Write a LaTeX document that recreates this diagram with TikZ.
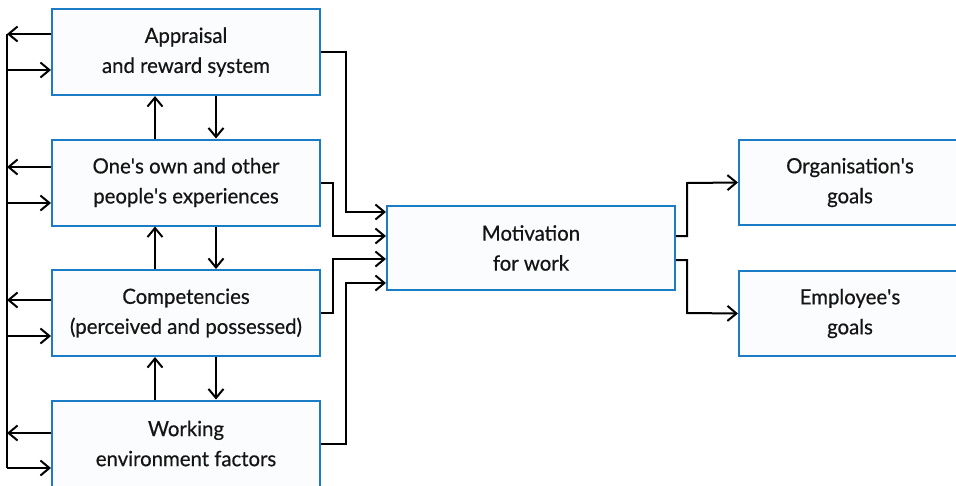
\documentclass[tikz,border=0pt]{standalone}
\usepackage{fontspec}
\setmainfont{Lato}[FakeStretch=0.97,FakeBold=0.5]
\usetikzlibrary{arrows.meta}
\definecolor{boxblue}{HTML}{1B7BC4}
\definecolor{boxfill}{HTML}{FBFCFD}
\definecolor{textcol}{HTML}{151515}
\newcommand{\apos}{\textquotesingle}
\tikzset{
  box/.style={draw=boxblue, line width=2pt, fill=boxfill, minimum width=268pt,
    minimum height=86pt, align=center, inner sep=0pt, text=textcol,
    font=\fontsize{21}{30}\selectfont},
  link/.style={line width=2pt, -{Straight Barb[length=9pt,width=15pt,line width=2pt]}},
  wire/.style={line width=2pt},
}
\begin{document}
\begin{tikzpicture}[x=1pt,y=-1pt]
\useasboundingbox (0,0) rectangle (956,485);
\clip (0,0) rectangle (956,485);

% factor boxes on the left
\node[box] (appr) at (186,52) {Appraisal\\and reward system};
\node[box] (exp)  at (186,182.5) {One\apos s own and other\\people\apos s experiences};
\node[box] (comp) at (186,313) {Competencies\\(perceived and possessed)};
\node[box] (env)  at (186,443.5) {Working\\environment factors};

% central box and outcomes
\node[box, minimum width=288pt, minimum height=84pt] (mot) at (531,248) {Motivation\\for work};
\node[box, minimum width=222pt, minimum height=85pt] (org) at (850,182.5) {Organisation\apos s\\goals};
\node[box, minimum width=222pt, minimum height=85pt] (emp) at (850,313.5) {Employee\apos s\\goals};

% feedback bus on the far left
\coordinate (b1) at (7,34);
\coordinate (b2) at (7,70);
\coordinate (b3) at (7,167);
\coordinate (b4) at (7,203);
\coordinate (b5) at (7,300);
\coordinate (b6) at (7,336);
\coordinate (b7) at (7,433);
\coordinate (b8) at (7,468);
\draw[wire] (b1) -- (b8);
\draw[link] (appr.west |- b1) -- (b1);
\draw[link] (b2) -- (appr.west |- b2);
\draw[link] (exp.west |- b3) -- (b3);
\draw[link] (b4) -- (exp.west |- b4);
\draw[link] (comp.west |- b5) -- (b5);
\draw[link] (b6) -- (comp.west |- b6);
\draw[link] (env.west |- b7) -- (b7);
\draw[link] (b8) -- (env.west |- b8);

% vertical links between neighbouring boxes
\foreach \lo/\hi in {exp/appr, comp/exp, env/comp}{
  \draw[link] (\lo.north -| 155,0) -- (\hi.south -| 155,0);
  \draw[link] (\hi.south -| 216,0) -- (\lo.north -| 216,0);
}

% inputs into motivation
\draw[link] (appr.east) -| (346,212) -- (mot.west |- 0,212);
\draw[link] (exp.east)  -| (333,236) -- (mot.west |- 0,236);
\draw[link] (comp.east) -| (333,259) -- (mot.west |- 0,259);
\draw[link] (env.east)  -| (346,283) -- (mot.west |- 0,283);

% outputs from motivation
\draw[link] (mot.east |- 0,236) -| (687,183) -- (org.west);
\draw[link] (mot.east |- 0,260) -| (687,313) -- (emp.west);
\end{tikzpicture}
\end{document}
